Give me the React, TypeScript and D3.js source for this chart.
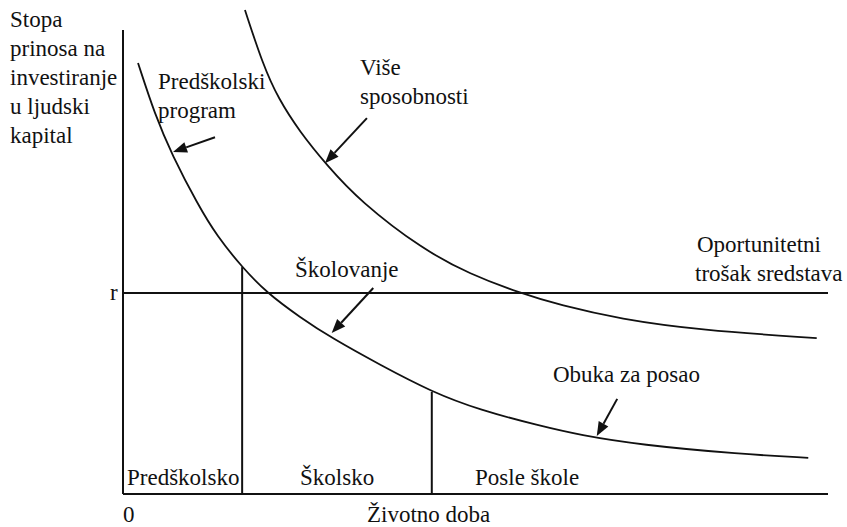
import React from "react";
import * as d3 from "d3";

const W = 847;
const H = 527;

// Lower curve (Predškolski program -> Školovanje -> Obuka za posao)
const lowerAge = [2.13, 4.54, 6.95, 10.64, 13.33, 16.88, 20.43, 25.1, 29.6, 36.5, 43.8, 50.6, 59.1, 64.8, 73.3, 87.5, 97.2];
const lowerRate = [92.9, 81.7, 73.1, 62.3, 55.6, 48.9, 43.3, 38.1, 33.6, 27.8, 22.0, 18.1, 14.7, 12.7, 10.6, 8.6, 7.8];
// Upper curve (Više sposobnosti)
const upperAge = [17.3, 19.86, 22.0, 25.1, 28.9, 33.6, 42.6, 49.2, 56.3, 62.0, 70.5, 81.8, 98.4];
const upperRate = [104.3, 92.5, 85.3, 78.0, 70.9, 63.1, 52.6, 47.4, 43.3, 40.7, 37.7, 35.3, 33.6];
// Opportunity cost line
const rRate = 43.3;
// Stage dividers
const dividerAge = [16.9, 43.8];
const dividerRate = [48.9, 22.0];
// Stage labels
const stageLabels = ["Predškolsko", "Školsko", "Posle škole"];
// Arrows (from -> to, data units)
const arrowFromAge = [13.05, 34.6, 35.5, 70.1];
const arrowFromRate = [76.9, 81.0, 44.4, 20.5];
const arrowToAge = [7.09, 28.65, 29.6, 67.2];
const arrowToRate = [73.7, 71.3, 34.7, 12.5];

const yTitle = ["Stopa", "prinosa na", "investiranje", "u ljudski", "kapital"];
const xTitle = "Životno doba";

const FONT = "Liberation Serif, DejaVu Serif, Times New Roman, serif";
const FS = 23;

export default function App() {
  const x = d3.scaleLinear().domain([0, 100]).range([123, 828]);
  const y = d3.scaleLinear().domain([0, 100]).range([494, 30]);

  const line = d3
    .line<[number, number]>()
    .x((d) => x(d[0]))
    .y((d) => y(d[1]))
    .curve(d3.curveBasis);

  const lower = lowerAge.map((a, i) => [a, lowerRate[i]] as [number, number]);
  const upper = upperAge.map((a, i) => [a, upperRate[i]] as [number, number]);

  const arrows = arrowFromAge.map((_, i) => {
    const x1 = x(arrowFromAge[i]);
    const y1 = y(arrowFromRate[i]);
    const x2 = x(arrowToAge[i]);
    const y2 = y(arrowToRate[i]);
    const ang = Math.atan2(y2 - y1, x2 - x1);
    const L = 14;
    const hw = 5.5;
    const bx = x2 - L * Math.cos(ang);
    const by = y2 - L * Math.sin(ang);
    const px = -Math.sin(ang) * hw;
    const py = Math.cos(ang) * hw;
    return {
      x1,
      y1,
      bx,
      by,
      pts: `${x2},${y2} ${bx + px},${by + py} ${bx - px},${by - py}`,
    };
  });

  const T = (props: { x: number; y: number; children: React.ReactNode }) => (
    <text x={props.x} y={props.y} fontFamily={FONT} fontSize={FS} fill="#111">
      {props.children}
    </text>
  );

  return (
    <svg
      width={W}
      height={H}
      style={{ position: "absolute", left: 0, top: 0, background: "#fff" }}
    >
      {/* axes */}
      <line x1={x(0)} y1={y(100)} x2={x(0)} y2={y(0)} stroke="#111" strokeWidth={2} />
      <line x1={x(0)} y1={y(0)} x2={x(100)} y2={y(0)} stroke="#111" strokeWidth={2} />
      {/* r line */}
      <line x1={x(0)} y1={y(rRate)} x2={x(100)} y2={y(rRate)} stroke="#111" strokeWidth={2} />
      {/* dividers */}
      {dividerAge.map((a, i) => (
        <line key={i} x1={x(a)} y1={y(dividerRate[i])} x2={x(a)} y2={y(0)} stroke="#111" strokeWidth={2} />
      ))}
      {/* curves */}
      <path d={line(lower) || ""} fill="none" stroke="#111" strokeWidth={1.8} />
      <path d={line(upper) || ""} fill="none" stroke="#111" strokeWidth={1.8} />
      {/* arrows */}
      {arrows.map((a, i) => (
        <g key={i}>
          <line x1={a.x1} y1={a.y1} x2={a.bx} y2={a.by} stroke="#111" strokeWidth={2} />
          <polygon points={a.pts} fill="#111" />
        </g>
      ))}
      {/* y title */}
      {yTitle.map((t, i) => (
        <T key={i} x={10} y={27 + i * 29}>
          {t}
        </T>
      ))}
      <T x={110} y={300}>r</T>
      <T x={158} y={89}>Predškolski</T>
      <T x={158} y={118}>program</T>
      <T x={360} y={75}>Više</T>
      <T x={360} y={104}>sposobnosti</T>
      <T x={697} y={252}>Oportunitetni</T>
      <T x={695} y={281}>trošak sredstava</T>
      <T x={295} y={277}>Školovanje</T>
      <T x={553} y={382}>Obuka za posao</T>
      <T x={127} y={485}>{stageLabels[0]}</T>
      <T x={300} y={485}>{stageLabels[1]}</T>
      <T x={475} y={485}>{stageLabels[2]}</T>
      <T x={123} y={522}>0</T>
      <T x={367} y={522}>{xTitle}</T>
    </svg>
  );
}
